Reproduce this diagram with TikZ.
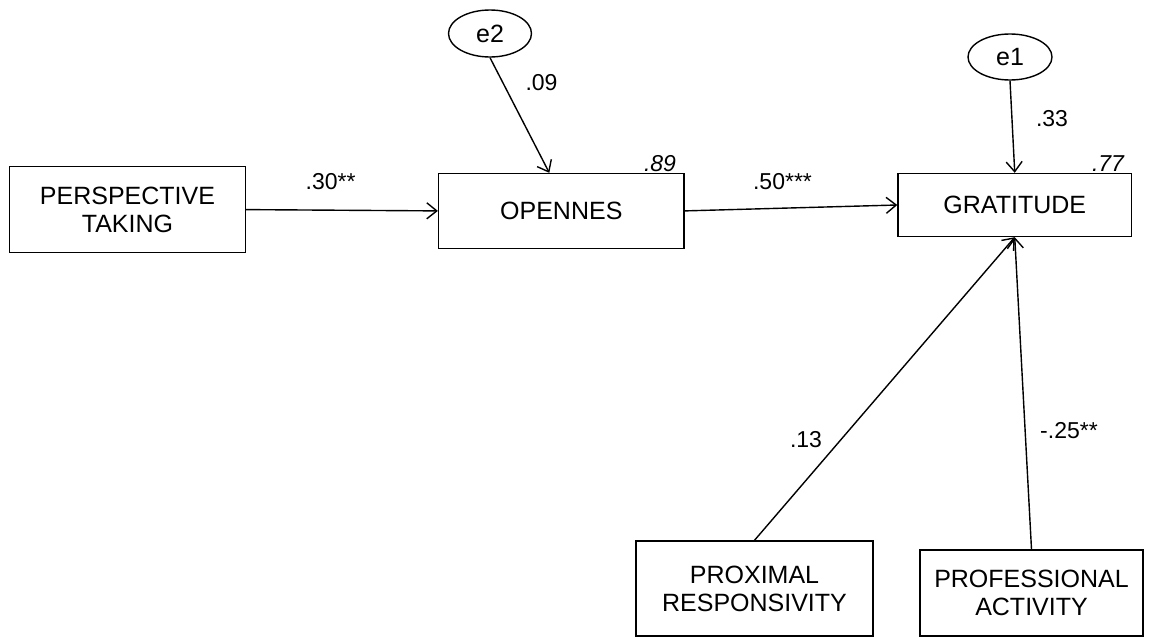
\documentclass[tikz,border=0pt]{standalone}
\usepackage{fontspec}
\setmainfont{Liberation Sans}
\usetikzlibrary{arrows.meta,shapes.geometric}
\begin{document}
\begin{tikzpicture}[x=1pt,y=-1pt,
  box/.style={draw, line width=1.4pt, inner sep=0pt, align=center, font=\fontsize{25}{28}\selectfont},
  err/.style={draw, ellipse, line width=1.4pt, inner sep=0pt, font=\fontsize{25}{28}\selectfont},
  pathline/.style={line width=1.4pt, -{Straight Barb[length=10pt,width=16pt,line width=1.4pt]}},
  lab/.style={font=\fontsize{23}{26}\selectfont, inner sep=0pt},
  rsq/.style={font=\fontsize{23}{26}\selectfont\itshape, inner sep=0pt}]
\fill[white] (0,0) rectangle (1152,637);
\useasboundingbox (0,0) rectangle (1152,637);

\node[box, minimum width=235.5pt, minimum height=86pt] (pt) at (127.5,209.6) {PERSPECTIVE\\TAKING};
\node[box, minimum width=245.4pt, minimum height=74.7pt] (op) at (561.3,210.9) {OPENNES};
\node[box, minimum width=233.5pt, minimum height=63pt] (gr) at (1014.75,205) {GRATITUDE};
\node[err, minimum width=83pt, minimum height=47pt] (e2) at (490,33.5) {e2};
\node[err, minimum width=84pt, minimum height=46pt] (e1) at (1010,57) {e1};
\node[box, minimum width=237pt, minimum height=95pt] (prox) at (754.5,588.5) {PROXIMAL\\RESPONSIVITY};
\node[box, minimum width=223pt, minimum height=86pt] (prof) at (1031.5,593) {PROFESSIONAL\\ACTIVITY};

\draw[pathline] (pt.east) -- (op.west);
\draw[pathline] (op.east) -- (gr.west);
\draw[pathline] (e2.south) -- ([xshift=-12pt]op.north);
\draw[pathline] (e1.south) -- (gr.north);
\draw[pathline] (prox.north) -- (gr.south);
\draw[pathline] (prof.north) -- (gr.south);

\node[lab] (l30) at (330.6,182) {.30**};
\node[lab] (l09) at (541.5,83) {.09};
\node[rsq] (l89) at (660,164) {.89};
\node[lab] (l50) at (782.5,182) {.50***};
\node[lab] (l33) at (1052,118.6) {.33};
\node[rsq] (l77) at (1108,164) {.77};
\node[lab] (l13) at (806,439.6) {.13};
\node[lab] (l25) at (1069,430.6) {-.25**};
\end{tikzpicture}
\end{document}
